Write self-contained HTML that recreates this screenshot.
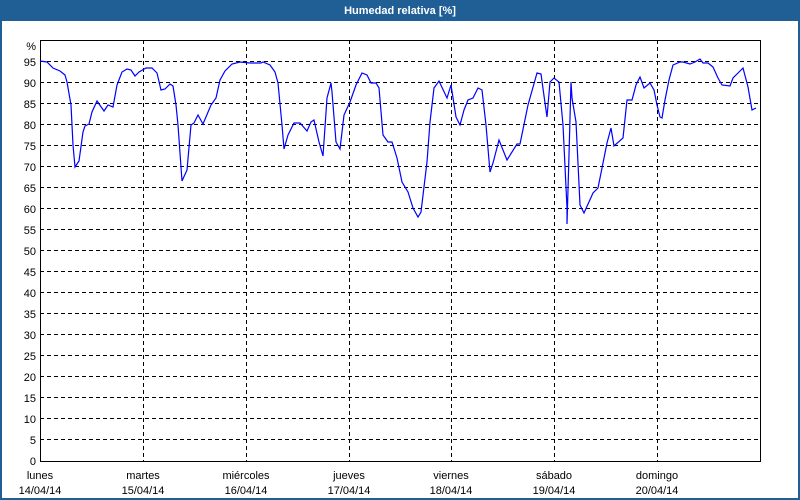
<!DOCTYPE html>
<html><head><meta charset="utf-8"><style>
html,body{margin:0;padding:0;background:#fff}
svg{display:block}
text{font-family:"Liberation Sans","DejaVu Sans",sans-serif;font-size:11px;fill:#000}
</style></head><body>
<svg width="800" height="500" viewBox="0 0 800 500" xmlns="http://www.w3.org/2000/svg">
<rect x="0" y="0" width="800" height="500" fill="#fff"/>
<rect x="0" y="0" width="800" height="21" fill="#1f5f96"/>
<rect x="0" y="0" width="2" height="500" fill="#1f5f96"/>
<rect x="798" y="0" width="2" height="500" fill="#1f5f96"/>
<rect x="0" y="498" width="800" height="2" fill="#1f5f96"/>
<text x="400" y="14" text-anchor="middle" style="fill:#fff;font-weight:bold">Humedad relativa [%]</text>
<g stroke="#000" stroke-width="1" stroke-dasharray="4,3" shape-rendering="crispEdges">
<path d="M40 61.5H760M40 82.5H760M40 103.5H760M40 124.5H760M40 145.5H760M40 166.5H760M40 187.5H760M40 208.5H760M40 229.5H760M40 250.5H760M40 271.5H760M40 292.5H760M40 313.5H760M40 334.5H760M40 355.5H760M40 376.5H760M40 397.5H760M40 418.5H760M40 439.5H760"/>
<path d="M143.5 40V461M246.5 40V461M349.5 40V461M451.5 40V461M554.5 40V461M657.5 40V461"/>
</g>
<rect x="40.5" y="40.5" width="720" height="421" fill="none" stroke="#000" stroke-width="1" shape-rendering="crispEdges"/>
<g text-anchor="end">
<text x="36" y="50">%</text>
<text x="36" y="66">95</text><text x="36" y="87">90</text><text x="36" y="108">85</text><text x="36" y="129">80</text><text x="36" y="150">75</text><text x="36" y="171">70</text><text x="36" y="192">65</text><text x="36" y="213">60</text><text x="36" y="234">55</text><text x="36" y="255">50</text><text x="36" y="276">45</text><text x="36" y="297">40</text><text x="36" y="318">35</text><text x="36" y="339">30</text><text x="36" y="360">25</text><text x="36" y="381">20</text><text x="36" y="402">15</text><text x="36" y="423">10</text><text x="36" y="444">5</text><text x="36" y="465">0</text>
</g>
<g text-anchor="middle">
<text x="40" y="479">lunes</text><text x="40" y="494">14/04/14</text>
<text x="143" y="479">martes</text><text x="143" y="494">15/04/14</text>
<text x="246" y="479">miércoles</text><text x="246" y="494">16/04/14</text>
<text x="349" y="479">jueves</text><text x="349" y="494">17/04/14</text>
<text x="451" y="479">viernes</text><text x="451" y="494">18/04/14</text>
<text x="554" y="479">sábado</text><text x="554" y="494">19/04/14</text>
<text x="657" y="479">domingo</text><text x="657" y="494">20/04/14</text>
</g>
<polyline fill="none" stroke="#0000ff" stroke-width="1.2" points="40,61 47,62 53,68 60,71 65,75 67,82 71,105 73,145 75,167 79,161 83,132 85,126 89,124 92,112 97,101 104,111 108,105 113,107 117,85 122,72 127,69 131,70 135,76 139,72 146,68 152,68 157,73 161,90 165,89 170,84 173,86 176,105 178,125 182,181 187,170 191,125 194,123 198,115 203,124 211,105 216,98 220,80 225,71 232,64 240,62 250,63 261,63 263,62 270,65 275,72 278,83 282,125 284,149 288,135 294,123 300,123 307,131 311,122 314,120 319,142 323,156 327,98 331,83 332,92 336,142 340,149 344,115 350,102 356,85 362,73 367,75 371,83 376,83 379,88 383,135 388,142 392,142 397,158 402,182 408,192 413,208 418,217 421,212 427,162 430,122 434,88 439,81 447,98 451,85 456,117 460,125 464,110 468,100 473,98 478,88 482,90 486,125 490,172 493,163 499,140 507,160 517,144 520,144 528,105 537,73 541,74 545,103 547,117 550,82 554,78 559,82 563,125 567,208 567,224 569,155 571,82 572,98 576,122 580,205 584,213 593,193 598,188 607,143 611,128 614,146 623,138 627,100 632,100 636,85 640,77 644,88 650,83 654,90 657,105 660,117 662,118 665,100 669,80 673,65 680,62 683,62 690,64 695,62 700,59 703,63 708,63 713,67 718,78 722,85 730,86 733,78 739,72 743,68 748,87 752,110 756,108"/>
</svg>
</body></html>
